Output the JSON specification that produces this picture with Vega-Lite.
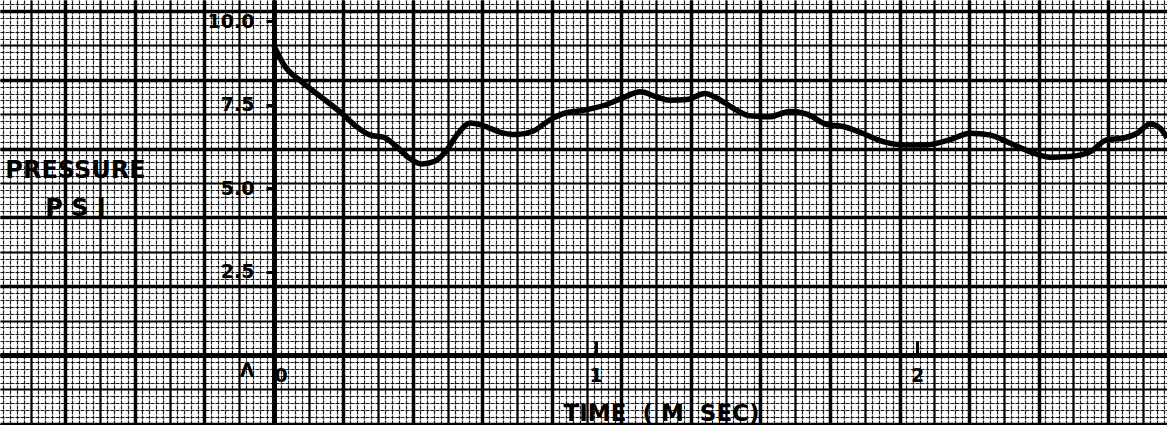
{
  "$schema": "https://vega.github.io/schema/vega-lite/v6.json",
  "width": 1167,
  "height": 425,
  "autosize": {"type": "none"},
  "padding": 0,
  "background": "white",
  "config": {"view": {"stroke": null}},
  "data": {"values": [
    {"t": 0.0, "p": 9.25}, {"t": 0.03, "p": 8.7}, {"t": 0.09, "p": 8.15}, {"t": 0.15, "p": 7.7},
    {"t": 0.215, "p": 7.2}, {"t": 0.255, "p": 6.85}, {"t": 0.3, "p": 6.58}, {"t": 0.34, "p": 6.52},
    {"t": 0.38, "p": 6.25}, {"t": 0.42, "p": 5.9}, {"t": 0.46, "p": 5.72}, {"t": 0.5, "p": 5.8},
    {"t": 0.535, "p": 6.1}, {"t": 0.57, "p": 6.6}, {"t": 0.61, "p": 6.95}, {"t": 0.65, "p": 6.87},
    {"t": 0.71, "p": 6.65}, {"t": 0.755, "p": 6.6}, {"t": 0.805, "p": 6.7}, {"t": 0.86, "p": 7.05},
    {"t": 0.9, "p": 7.23}, {"t": 0.97, "p": 7.34}, {"t": 1.035, "p": 7.5}, {"t": 1.085, "p": 7.7},
    {"t": 1.14, "p": 7.88}, {"t": 1.19, "p": 7.73}, {"t": 1.23, "p": 7.63}, {"t": 1.285, "p": 7.65},
    {"t": 1.34, "p": 7.83}, {"t": 1.38, "p": 7.68}, {"t": 1.43, "p": 7.38}, {"t": 1.48, "p": 7.16},
    {"t": 1.54, "p": 7.13}, {"t": 1.605, "p": 7.29}, {"t": 1.655, "p": 7.22}, {"t": 1.72, "p": 6.9},
    {"t": 1.77, "p": 6.84}, {"t": 1.83, "p": 6.64}, {"t": 1.895, "p": 6.39}, {"t": 1.96, "p": 6.29},
    {"t": 2.03, "p": 6.29}, {"t": 2.1, "p": 6.44}, {"t": 2.165, "p": 6.64}, {"t": 2.225, "p": 6.59},
    {"t": 2.29, "p": 6.34}, {"t": 2.35, "p": 6.09}, {"t": 2.415, "p": 5.92}, {"t": 2.475, "p": 5.94},
    {"t": 2.54, "p": 6.09}, {"t": 2.59, "p": 6.44}, {"t": 2.64, "p": 6.49}, {"t": 2.685, "p": 6.64},
    {"t": 2.725, "p": 6.92}, {"t": 2.755, "p": 6.8}, {"t": 2.778, "p": 6.5}
  ]},
  "layer": [
    {
      "mark": {"type": "point", "opacity": 0},
      "encoding": {
        "x": {"field": "t", "type": "quantitative",
          "scale": {"domain": [-39.424, 128.489], "nice": false, "zero": false},
          "axis": {"orient": "bottom", "title": null, "labels": false, "ticks": false, "domain": false,
            "grid": true, "tickCount": 168, "gridColor": "#000", "gridWidth": 1.2, "gridDash": [4, 1], "gridOpacity": 0.9}},
        "y": {"field": "p", "type": "quantitative",
          "scale": {"domain": [-10.174, 51.599], "nice": false, "zero": false},
          "axis": {"orient": "left", "title": null, "labels": false, "ticks": false, "domain": false,
            "grid": true, "tickCount": 62, "gridColor": "#000", "gridWidth": 1.2, "gridDash": [4, 1], "gridOpacity": 0.9}}
      }
    },
    {
      "mark": {"type": "point", "opacity": 0},
      "encoding": {
        "x": {"field": "t", "type": "quantitative",
          "scale": {"domain": [-39.424, 128.489], "nice": false, "zero": false},
          "axis": {"orient": "bottom", "title": null, "labels": false, "ticks": false, "domain": false,
            "grid": true, "tickCount": 34, "gridColor": "#000", "gridWidth": 2.2}},
        "y": {"field": "p", "type": "quantitative",
          "scale": {"domain": [-10.174, 51.599], "nice": false, "zero": false},
          "axis": {"orient": "left", "title": null, "labels": false, "ticks": false, "domain": false,
            "grid": true, "tickCount": 12, "gridColor": "#000", "gridWidth": 2.2}}
      }
    },
    {
      "mark": {"type": "point", "opacity": 0},
      "encoding": {
        "x": {"field": "t", "type": "quantitative",
          "scale": {"domain": [-39.424, 128.489], "nice": false, "zero": false},
          "axis": {"orient": "bottom", "title": null, "labels": false, "ticks": false, "domain": false,
            "grid": true, "tickCount": 17, "gridColor": "#000", "gridWidth": 3.5}},
        "y": {"field": "p", "type": "quantitative",
          "scale": {"domain": [-10.174, 51.599], "nice": false, "zero": false},
          "axis": {"orient": "left", "title": null, "labels": false, "ticks": false, "domain": false,
            "grid": true, "tickCount": 6, "gridColor": "#000", "gridWidth": 3.5}}
      }
    },
    {
      "mark": {"type": "line", "color": "#000", "strokeWidth": 5.5, "interpolate": "monotone"},
      "encoding": {
        "x": {"field": "t", "type": "quantitative",
          "scale": {"domain": [-0.85225, 2.7776], "nice": false, "zero": false},
          "axis": {"orient": "bottom", "offset": -70, "grid": false, "values": [0, 1, 2],
            "domainColor": "#000", "domainWidth": 5, "tickColor": "#000", "tickWidth": 3, "tickSize": -14,
            "labelPadding": 25, "labelFont": "DejaVu Sans", "labelFontWeight": "bold", "labelFontSize": 19, "labelColor": "#000",
            "labelAlign": {"condition": {"test": "datum.value == 0", "value": "left"}, "value": "center"},
            "labelExpr": "format(datum.value, 'd')",
            "title": "TIME\u00a0\u00a0(\u00a0M\u00a0\u00a0SEC)", "titleFont": "DejaVu Sans", "titleFontWeight": "bold", "titleFontSize": 23, "titleColor": "#000",
            "titleX": 661, "titleY": 65, "titleAlign": "center", "titleBaseline": "alphabetic"}},
        "y": {"field": "p", "type": "quantitative",
          "scale": {"domain": [-2.0958, 10.629], "nice": false, "zero": false},
          "axis": {"orient": "left", "offset": -274, "grid": false, "values": [0, 2.5, 5, 7.5, 10],
            "domainColor": "#000", "domainWidth": 5, "tickColor": "#000", "tickWidth": 3, "tickSize": 8,
            "labelPadding": 12, "labelFont": "DejaVu Sans", "labelFontWeight": "bold", "labelFontSize": 19, "labelColor": "#000",
            "labelOffset": {"condition": {"test": "datum.value == 0", "value": 15}, "value": 0},
            "labelExpr": "datum.value == 0 ? 'Λ' : format(datum.value, '.1f')",
            "title": ["PRESSURE", "P\u00a0S\u00a0I"], "titleFont": "DejaVu Sans", "titleFontWeight": "bold", "titleFontSize": 24, "titleColor": "#000",
            "titleAngle": 0, "titleX": -199, "titleY": 177, "titleAlign": "center", "titleBaseline": "alphabetic", "titleLineHeight": 38}}
      }
    }
  ],
  "resolve": {
    "scale": {"x": "independent", "y": "independent"},
    "axis": {"x": "independent", "y": "independent"}
  }
}
